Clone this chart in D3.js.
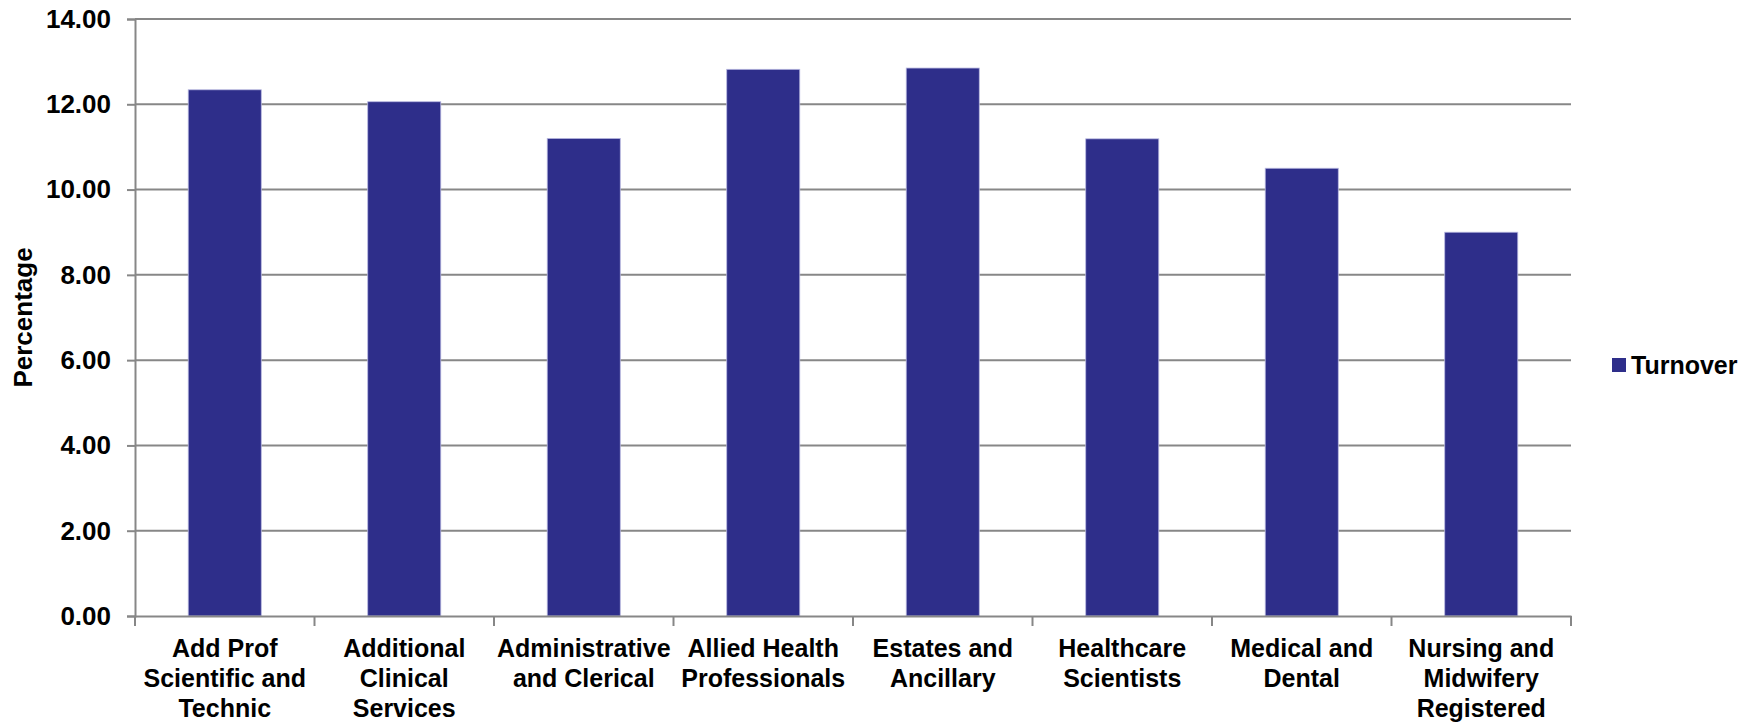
<!DOCTYPE html>
<html>
<head>
<meta charset="utf-8">
<script src="https://cdn.jsdelivr.net/npm/d3@7"></script>
<style>
  html, body { margin: 0; padding: 0; background: #ffffff; }
  svg { display: block; }
  text { font-family: "Liberation Sans", Arial, sans-serif; font-weight: bold; fill: #000; }
</style>
</head>
<body>
<svg id="chart" width="1755" height="723"></svg>
<script>
const categories = [
  ["Add Prof", "Scientific and", "Technic"],
  ["Additional", "Clinical", "Services"],
  ["Administrative", "and Clerical"],
  ["Allied Health", "Professionals"],
  ["Estates and", "Ancillary"],
  ["Healthcare", "Scientists"],
  ["Medical and", "Dental"],
  ["Nursing and", "Midwifery", "Registered"]
];
const turnover = [12.34, 12.06, 11.20, 12.82, 12.85, 11.19, 10.50, 9.00];
const yTicks = [0, 2, 4, 6, 8, 10, 12, 14];
const seriesName = "Turnover";

const svg = d3.select("#chart");
const mLeft = 135, mRight = 1571, mTop = 19, mBottom = 616;
const grey = "#878787";
const barColor = "#2E2E8A";

const x = d3.scaleBand().domain(d3.range(categories.length)).range([mLeft, mRight]).padding(0);
const y = d3.scaleLinear().domain([0, 14]).range([mBottom, mTop]);
const barW = x.bandwidth() * 0.407;

// gridlines
svg.append("g").selectAll("line").data(yTicks.filter(d => d > 0)).join("line")
  .attr("x1", mLeft).attr("x2", mRight)
  .attr("y1", d => y(d)).attr("y2", d => y(d))
  .attr("stroke", grey).attr("stroke-width", 2);

// bars
svg.append("g").selectAll("rect").data(turnover).join("rect")
  .attr("x", (d, i) => x(i) + (x.bandwidth() - barW) / 2)
  .attr("width", barW)
  .attr("y", d => y(d))
  .attr("height", d => y(0) - y(d))
  .attr("fill", barColor)
  .attr("stroke", "#b8b8e0").attr("stroke-width", 0.8);

// y axis
const yAxis = d3.axisLeft(y).tickValues(yTicks).tickSize(8).tickPadding(16).tickFormat(d3.format(".2f"));
const gy = svg.append("g").attr("transform", `translate(${mLeft},0)`).call(yAxis);
gy.select(".domain").attr("stroke", grey).attr("stroke-width", 2);
gy.selectAll(".tick line").attr("stroke", grey).attr("stroke-width", 2);
gy.selectAll(".tick text").attr("font-size", 26).attr("font-family", "Liberation Sans, Arial, sans-serif")
  .attr("font-weight", "bold").attr("fill", "#000");

// x axis
const xAxis = d3.axisBottom(x).tickSize(0).tickFormat("");
const gx = svg.append("g").attr("transform", `translate(0,${mBottom})`).call(xAxis);
gx.select(".domain").attr("stroke", grey).attr("stroke-width", 2);
gx.selectAll(".tick").remove();
// category boundary ticks
const bounds = d3.range(categories.length + 1).map(i => mLeft + i * x.step());
svg.append("g").selectAll("line").data(bounds).join("line")
  .attr("x1", d => d).attr("x2", d => d)
  .attr("y1", mBottom).attr("y2", mBottom + 10)
  .attr("stroke", grey).attr("stroke-width", 2);

// x labels
const lbl = svg.append("g").selectAll("text").data(categories).join("text")
  .attr("text-anchor", "middle")
  .attr("font-size", 25)
  .attr("x", (d, i) => x(i) + x.bandwidth() / 2)
  .attr("y", mBottom + 41);
lbl.selectAll("tspan").data(d => d).join("tspan")
  .attr("x", function() { return d3.select(this.parentNode).attr("x"); })
  .attr("dy", (d, j) => j === 0 ? 0 : 30)
  .text(d => d);

// y title
svg.append("text")
  .attr("transform", `translate(32,${(mTop + mBottom) / 2}) rotate(-90)`)
  .attr("text-anchor", "middle")
  .attr("font-size", 26)
  .text("Percentage");

// legend
svg.append("rect").attr("x", 1612).attr("y", 358).attr("width", 14).attr("height", 14).attr("fill", barColor);
svg.append("text").attr("x", 1631).attr("y", 374).attr("font-size", 25).text(seriesName);
</script>
</body>
</html>
